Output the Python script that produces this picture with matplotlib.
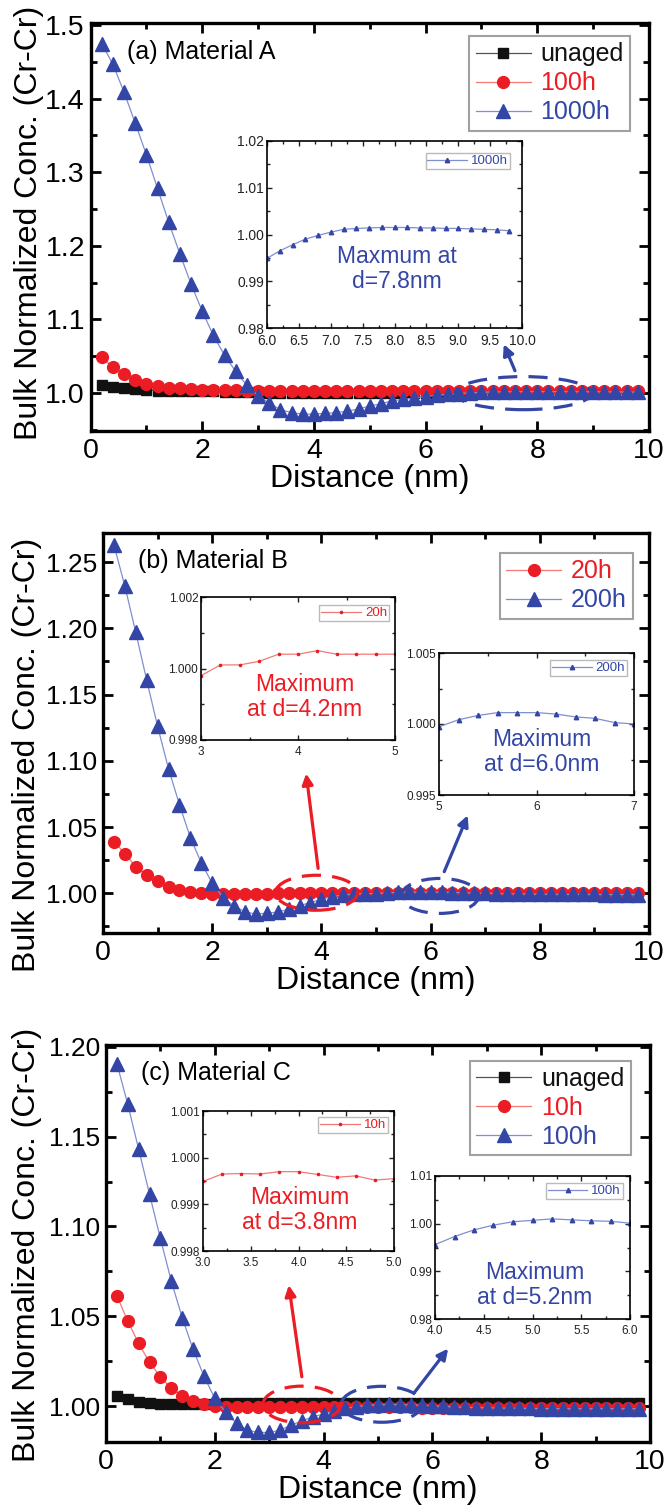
import matplotlib
matplotlib.use("Agg")
import matplotlib.pyplot as plt
from matplotlib.patches import Ellipse
from matplotlib.ticker import MultipleLocator, FormatStrFormatter

plt.rcParams['font.family'] = ['Liberation Sans', 'DejaVu Sans']

# distance grid (nm)
distance = [0.2, 0.4, 0.6, 0.8, 1.0, 1.2, 1.4, 1.6, 1.8, 2.0,
            2.2, 2.4, 2.6, 2.8, 3.0, 3.2, 3.4, 3.6, 3.8, 4.0,
            4.2, 4.4, 4.6, 4.8, 5.0, 5.2, 5.4, 5.6, 5.8, 6.0,
            6.2, 6.4, 6.6, 6.8, 7.0, 7.2, 7.4, 7.6, 7.8, 8.0,
            8.2, 8.4, 8.6, 8.8, 9.0, 9.2, 9.4, 9.6, 9.8]

# (a) Material A
a_unaged = [1.011, 1.008, 1.006, 1.005, 1.004, 1.003, 1.003, 1.002, 1.002, 1.002,
            1.002, 1.001, 1.001, 1.001, 1.001, 1.000, 1.000, 1.000, 1.000, 1.000,
            1.000, 1.000, 1.000, 1.000, 1.000, 1.000, 1.000, 1.000, 1.000, 1.000,
            1.000, 1.000, 1.000, 1.000, 1.000, 1.000, 1.000, 1.000, 1.000, 1.000,
            0.9995, 0.9995, 0.9995, 0.9995, 0.9995, 0.9995, 0.9995, 0.9995, 0.9995]
a_100h = [1.048, 1.035, 1.025, 1.018, 1.012, 1.009, 1.007, 1.006, 1.005, 1.004,
          1.004, 1.004, 1.004, 1.003, 1.003, 1.003, 1.003, 1.003, 1.003, 1.003,
          1.003, 1.003, 1.003, 1.003, 1.003, 1.003, 1.003, 1.003, 1.003, 1.003,
          1.003, 1.003, 1.003, 1.003, 1.003, 1.002, 1.002, 1.002, 1.002, 1.002,
          1.002, 1.002, 1.002, 1.002, 1.002, 1.002, 1.002, 1.002, 1.002]
a_1000h = [1.475, 1.447, 1.409, 1.367, 1.324, 1.278, 1.232, 1.189, 1.148, 1.111,
           1.078, 1.051, 1.029, 1.010, 0.996, 0.986, 0.977, 0.973, 0.971, 0.971,
           0.972, 0.973, 0.975, 0.978, 0.982, 0.985, 0.989, 0.991, 0.993, 0.9949,
           0.9965, 0.9978, 0.9990, 0.9998, 1.0005, 1.0011, 1.0013, 1.0014, 1.0015, 1.0015,
           1.0015, 1.0014, 1.0014, 1.0013, 1.0013, 1.0012, 1.0011, 1.0010, 1.0008]

# (b) Material B
b_20h = [1.039, 1.030, 1.020, 1.014, 1.009, 1.0045, 1.0025, 1.0008, 1.0000, 0.9992,
         0.9991, 0.9992, 0.9993, 0.9995, 0.9998, 1.0001, 1.0001, 1.0002, 1.0004, 1.0004,
         1.0005, 1.0004, 1.0004, 1.0004, 1.0004, 1.0005, 1.0005, 1.0005, 1.0005, 1.0005,
         1.0005, 1.0005, 1.0005, 1.0005, 1.0005, 1.0005, 1.0005, 1.0005, 1.0005, 1.0005,
         1.0005, 1.0005, 1.0005, 1.0005, 1.0005, 1.0005, 1.0005, 1.0005, 1.0005]
b_200h = [1.263, 1.232, 1.197, 1.161, 1.126, 1.094, 1.067, 1.042, 1.023, 1.0075,
          0.9967, 0.9905, 0.9860, 0.9842, 0.9850, 0.9857, 0.9880, 0.9907, 0.9930, 0.9955,
          0.9975, 0.9987, 0.9994, 0.9997, 0.9998, 1.0003, 1.0006, 1.0008, 1.0008, 1.0008,
          1.0007, 1.0005, 1.0004, 1.0001, 1.0000, 0.9998, 0.9996, 0.9995, 0.9994, 0.9993,
          0.9992, 0.9992, 0.9991, 0.9991, 0.9991, 0.9990, 0.9990, 0.9990, 0.9990]

# (c) Material C
c_unaged = [1.0056, 1.0037, 1.0024, 1.0016, 1.0012, 1.0011, 1.0011, 1.0012, 1.0013, 1.0014,
            1.0015, 1.0015, 1.0015, 1.0015, 1.0015, 1.0015, 1.0015, 1.0015, 1.0015, 1.0015,
            1.0016, 1.0016, 1.0016, 1.0016, 1.0016, 1.0016, 1.0016, 1.0016, 1.0016, 1.0016,
            1.0018, 1.0018, 1.0018, 1.0018, 1.0018, 1.0018, 1.0018, 1.0018, 1.0018, 1.0018,
            1.0019, 1.0019, 1.0019, 1.0019, 1.0019, 1.0019, 1.0019, 1.0019, 1.0019]
c_10h = [1.0614, 1.0473, 1.0349, 1.0243, 1.0163, 1.0098, 1.0058, 1.0028, 1.0011, 1.0002,
         0.9997, 0.9995, 0.9995, 0.9995, 0.99949, 0.99965, 0.99966, 0.99965, 0.9997, 0.9997,
         0.99964, 0.99958, 0.99961, 0.99952, 0.99955, 0.9995, 0.9994, 0.9993, 0.9992, 0.9992,
         0.9991, 0.9991, 0.9990, 0.9990, 0.9989, 0.9989, 0.9989, 0.9988, 0.9988, 0.9988,
         0.9988, 0.9987, 0.9987, 0.9987, 0.9987, 0.9987, 0.9987, 0.9987, 0.9987]
c_100h = [1.1907, 1.168, 1.143, 1.118, 1.0933, 1.0696, 1.0493, 1.0317, 1.0167, 1.0043,
          0.9965, 0.9904, 0.9866, 0.9853, 0.9853, 0.9866, 0.9894, 0.9917, 0.9940, 0.9956,
          0.9973, 0.9987, 0.9997, 1.0004, 1.0007, 1.0010, 1.0008, 1.0006, 1.0005, 1.0001,
          0.9998, 0.9995, 0.9993, 0.9991, 0.9990, 0.9989, 0.9988, 0.9987, 0.9987, 0.9986,
          0.9986, 0.9985, 0.9985, 0.9985, 0.9985, 0.9985, 0.9985, 0.9985, 0.9985]

BLACK, RED, BLUE = '#111111', '#ec1c24', '#3346a6'
LINE = {BLACK: '#555555', RED: '#f07a7a', BLUE: '#7f8fd0'}

W, H = 670, 1507
fig = plt.figure(figsize=(W / 100, H / 100), dpi=100)


def box(left, top, right, bottom):
    # pixel box -> figure fraction
    return [left / W, 1 - bottom / H, (right - left) / W, (bottom - top) / H]


def main_axes(rect, ylim, ymajor, yfmt, label, ylab_xy, ysize):
    ax = fig.add_axes(rect)
    ax.set_xlim(0, 10)
    ax.set_ylim(*ylim)
    ax.xaxis.set_major_locator(MultipleLocator(2))
    ax.xaxis.set_minor_locator(MultipleLocator(1))
    ax.yaxis.set_major_locator(MultipleLocator(ymajor))
    ax.yaxis.set_minor_locator(MultipleLocator(ymajor / 2))
    ax.yaxis.set_major_formatter(FormatStrFormatter(yfmt))
    ax.tick_params(which='both', direction='in', top=True, right=True, width=2)
    ax.tick_params(axis='x', labelsize=20.5, pad=5)
    ax.tick_params(axis='y', labelsize=ysize, pad=4)
    ax.tick_params(which='major', length=7)
    ax.tick_params(which='minor', length=4)
    for s in ax.spines.values():
        s.set_linewidth(2.4)
    ax.set_xlabel('Distance (nm)', fontsize=23, labelpad=0)
    ax.set_ylabel('Bulk Normalized Conc. (Cr-Cr)', fontsize=23)
    ax.yaxis.set_label_coords(*ylab_xy)
    ax.text(0.065, 0.93, label, transform=ax.transAxes, fontsize=18, va='center')
    return ax


def series(ax, y, color, marker, ms, lab):
    ax.plot(distance, y, color=LINE[color], lw=0.9, marker=marker, ms=ms,
            mfc=color, mec=color, label=lab)


def main_legend(ax, anchor):
    leg = ax.legend(loc='upper right', bbox_to_anchor=anchor, fontsize=18,
                    frameon=True, fancybox=False, edgecolor='#8a8a8a',
                    handlelength=2.2, handletextpad=0.4, labelspacing=0.2,
                    borderpad=0.25, borderaxespad=0)
    leg.get_frame().set_linewidth(1.5)
    for t, h in zip(leg.get_texts(), leg.legend_handles):
        t.set_color(h.get_markerfacecolor())


def inset(rect, xlim, ylim, xmajor, ymajor, xfmt, yfmt, y, color, marker,
          lab, leg_xy, note, note_xy, tsize):
    ax = fig.add_axes(rect)
    xs = [x for x in distance if xlim[0] - 1e-9 <= x <= xlim[1] + 1e-9]
    ys = [v for x, v in zip(distance, y) if xlim[0] - 1e-9 <= x <= xlim[1] + 1e-9]
    ax.plot(xs, ys, color=LINE[color], lw=0.9, marker=marker, ms=3.2,
            mfc=color, mec=color, label=lab)
    ax.set_xlim(*xlim)
    ax.set_ylim(*ylim)
    ax.xaxis.set_major_locator(MultipleLocator(xmajor))
    ax.xaxis.set_minor_locator(MultipleLocator(xmajor / 2))
    ax.yaxis.set_major_locator(MultipleLocator(ymajor))
    ax.yaxis.set_minor_locator(MultipleLocator(ymajor / 2))
    ax.xaxis.set_major_formatter(FormatStrFormatter(xfmt))
    ax.yaxis.set_major_formatter(FormatStrFormatter(yfmt))
    ax.tick_params(which='both', direction='in', top=True, right=True,
                   labelsize=tsize, width=1, colors='#222222')
    ax.tick_params(axis='x', pad=4)
    ax.tick_params(axis='y', pad=2)
    ax.tick_params(which='major', length=3.5)
    ax.tick_params(which='minor', length=2)
    for s in ax.spines.values():
        s.set_linewidth(1.2)
    leg = ax.legend(loc='upper right', bbox_to_anchor=leg_xy, fontsize=9.5,
                    frameon=True, fancybox=False, edgecolor='#aaaaaa',
                    handlelength=3.0, handletextpad=0.3, borderpad=0.15,
                    borderaxespad=0)
    leg.get_frame().set_linewidth(1.0)
    for t in leg.get_texts():
        t.set_color(color)
    ax.text(note_xy[0], note_xy[1], note, transform=ax.transAxes, ha='center',
            va='center', fontsize=16.5, color=color, linespacing=1.15)
    return ax


def mark(ax, center, width, height, color, tail, head):
    ax.add_patch(Ellipse(center, width, height, fill=False, edgecolor=color,
                         lw=2.3, linestyle=(0, (6, 3.5)), zorder=5))
    ax.annotate('', xy=head, xytext=tail,
                arrowprops=dict(arrowstyle='-|>', color=color, lw=2.3,
                                mutation_scale=16, shrinkA=0, shrinkB=0),
                zorder=6)


# ---------------- (a) ----------------
ax = main_axes(box(90.5, 23, 649, 431), (0.948, 1.503), 0.1, '%.1f',
               '(a) Material A', (-0.083, 0.509), 20.5)
series(ax, a_unaged, BLACK, 's', 6.5, 'unaged')
series(ax, a_100h, RED, 'o', 8.5, '100h')
series(ax, a_1000h, BLUE, '^', 9.5, '1000h')
main_legend(ax, (0.966, 0.968))
mark(ax, (7.75, 0.9995), 2.44, 0.045, BLUE, (7.60, 1.030), (7.40, 1.066))
inset(box(267, 141, 522, 328), (6.0, 10.0), (0.98, 1.02), 0.5, 0.01, '%.1f', '%.2f',
      a_1000h, BLUE, '^', '1000h', (0.953, 0.936),
      'Maxmum at\nd=7.8nm', (0.508, 0.316), 10)

# ---------------- (b) ----------------
ax = main_axes(box(103, 533, 649, 933), (0.97, 1.272), 0.05, '%.2f',
               '(b) Material B', (-0.112, 0.445), 19)
series(ax, b_20h, RED, 'o', 8.5, '20h')
series(ax, b_200h, BLUE, '^', 9.5, '200h')
main_legend(ax, (0.971, 0.95))
mark(ax, (3.91, 1.0004), 1.5, 0.0264, RED, (3.94, 1.0188), (3.72, 1.0904))
mark(ax, (6.17, 0.998), 1.42, 0.0264, BLUE, (6.25, 1.0163), (6.68, 1.0588))
inset(box(201, 597, 395, 740), (3, 5), (0.998, 1.002), 1, 0.002, '%.0f', '%.3f',
      b_20h, RED, '.', '20h', (0.969, 0.944),
      'Maximum\nat d=4.2nm', (0.536, 0.30), 8.5)
inset(box(439, 653, 634, 795), (5, 7), (0.995, 1.005), 1, 0.005, '%.0f', '%.3f',
      b_200h, BLUE, '^', '200h', (0.964, 0.951),
      'Maximum\nat d=6.0nm', (0.528, 0.303), 8.5)

# ---------------- (c) ----------------
ax = main_axes(box(106, 1045, 650, 1442), (0.98, 1.201), 0.05, '%.2f',
               '(c) Material C', (-0.118, 0.496), 19)
series(ax, c_unaged, BLACK, 's', 6.5, 'unaged')
series(ax, c_10h, RED, 'o', 8.5, '10h')
series(ax, c_100h, BLUE, '^', 9.5, '100h')
main_legend(ax, (0.965, 0.96))
mark(ax, (3.6, 1.0009), 1.43, 0.0204, RED, (3.60, 1.0163), (3.36, 1.0673))
mark(ax, (5.07, 1.001), 1.49, 0.020, BLUE, (5.66, 1.0072), (6.29, 1.032))
inset(box(203, 1111, 394, 1251), (3.0, 5.0), (0.998, 1.001), 0.5, 0.001, '%.1f', '%.3f',
      c_10h, RED, '.', '10h', (0.969, 0.957),
      'Maximum\nat d=3.8nm', (0.508, 0.293), 8.5)
inset(box(435, 1176, 630, 1319), (4.0, 6.0), (0.98, 1.01), 0.5, 0.01, '%.1f', '%.2f',
      c_100h, BLUE, '^', '100h', (0.964, 0.951),
      'Maximum\nat d=5.2nm', (0.513, 0.238), 8.5)

fig.savefig('out.png', dpi=100)
